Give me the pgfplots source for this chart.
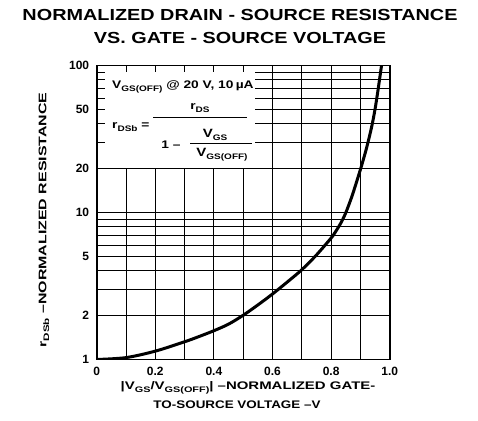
\documentclass[border=0pt]{standalone}
\usepackage{fontspec}
\setmainfont{Liberation Sans}
\usepackage{graphicx}
\usepackage{pgfplots}
\pgfplotsset{compat=1.18}
\newcommand{\sub}[1]{\raisebox{-0.45ex}{\fontsize{8}{9}\selectfont #1}}
\newcommand{\wide}[2]{\scalebox{#1}[1]{#2}}
\begin{document}
\begin{tikzpicture}
\begin{axis}[name=ax, scale only axis, width=293pt, height=294pt,
  xmin=0, xmax=1, ymode=log, ymin=1, ymax=100,
  xtick={0,0.2,0.4,0.6,0.8,1}, xticklabels={0,0.2,0.4,0.6,0.8,1.0},
  minor xtick={0.1,0.3,0.5,0.7,0.9},
  ytick={1,2,5,10,20,50,100}, yticklabels={1,2,5,10,20,50,100},
  minor ytick={3,4,6,7,8,9,30,40,60,70,80,90},
  grid=both, grid style={black, line width=1pt}, minor grid style={black, line width=1pt},
  major tick length=0pt, minor tick length=0pt,
  axis line style={line width=1.8pt},
  tick label style={font=\fontsize{12}{13}\selectfont\bfseries},
  xticklabel style={yshift=-4pt},
  yticklabel style={xshift=-4pt},
  /pgf/number format/assume math mode=true,
]
\fill[white] (axis cs:0.028,20) rectangle (axis cs:0.54,90);
\addplot[black, line width=3pt, smooth, tension=0.5] coordinates {
(0,1) (0.1,1.03) (0.2,1.14) (0.3,1.32) (0.35,1.435) (0.4,1.57) (0.45,1.74) (0.5,2.0)
(0.55,2.35) (0.6,2.79) (0.65,3.36) (0.7,4.08) (0.75,5.14) (0.8,6.70)
(0.81,7.14) (0.82,7.66) (0.83,8.26) (0.84,9.0) (0.85,9.95) (0.86,11.2)
(0.87,12.7) (0.88,14.6) (0.89,16.9) (0.9,19.6) (0.91,22.9) (0.92,27.0)
(0.93,32.4) (0.94,39.6) (0.95,50.5) (0.96,67.8) (0.97,93.5) (0.9722,100)
};
\end{axis}
\path ([shift={(-96.7pt,-60.5pt)}]ax.south west) rectangle ++(478pt,420pt);
\begin{scope}[shift={(ax.south west)}, every node/.style={inner sep=0pt}]
\node[font=\fontsize{16}{18}\selectfont\bfseries] at (143.3pt,344.5pt) {\wide{1.24}{NORMALIZED DRAIN - SOURCE RESISTANCE}};
\node[font=\fontsize{16}{18}\selectfont\bfseries] at (143.3pt,321.5pt) {\wide{1.24}{VS. GATE - SOURCE VOLTAGE}};
\node[font=\fontsize{11}{12}\selectfont\bfseries, rotate=90] at (-52.7pt,139.5pt) {\wide{1.45}{r\sub{DSb} --NORMALIZED RESISTANCE}};
\node[font=\fontsize{11}{12}\selectfont\bfseries] at (151.3pt,-28.5pt) {\wide{1.36}{|V\sub{GS}/V\sub{GS(OFF)}| --NORMALIZED GATE-}};
\node[font=\fontsize{11}{12}\selectfont\bfseries] at (140.3pt,-45.5pt) {\wide{1.22}{TO-SOURCE VOLTAGE --V}};
\node[font=\fontsize{11}{12}\selectfont\bfseries, anchor=west] at (15.3pt,272.5pt) {\wide{1.25}{V\sub{GS(OFF)} @ 20 V, 10\,µA}};
\node[font=\fontsize{11}{12}\selectfont\bfseries, anchor=west] at (15.3pt,232.5pt) {\wide{1.25}{r\sub{DSb} =}};
\draw[line width=1pt] (56.3pt,241.8pt) -- (150.3pt,241.8pt);
\node[font=\fontsize{11}{12}\selectfont\bfseries] at (103.3pt,251.5pt) {\wide{1.25}{r\sub{DS}}};
\node[font=\fontsize{11}{12}\selectfont\bfseries] at (74.3pt,214.5pt) {\wide{1.25}{1 --}};
\draw[line width=1pt] (93.3pt,216.2pt) -- (155.3pt,216.2pt);
\node[font=\fontsize{12}{13}\selectfont\bfseries] at (118.3pt,225pt) {\wide{1.25}{V\sub{GS}}};
\node[font=\fontsize{12}{13}\selectfont\bfseries] at (125.3pt,205pt) {\wide{1.25}{V\sub{GS(OFF)}}};
\end{scope}
\end{tikzpicture}
\end{document}
